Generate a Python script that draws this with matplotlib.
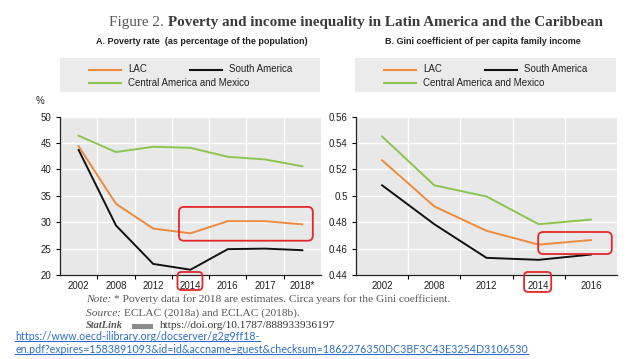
"""Figure 2: poverty and income inequality in Latin America and the Caribbean"""

import matplotlib
matplotlib.use('Agg')
import matplotlib.pyplot as plt
import numpy as np
from matplotlib.lines import Line2D
from matplotlib.patches import FancyBboxPatch, Rectangle
from matplotlib.transforms import blended_transform_factory

# --- data ---
poverty_years = ['2002', '2008', '2012', '2014', '2016', '2017', '2018*']
poverty_lac = [44.4, 33.5, 28.8, 27.9, 30.2, 30.2, 29.6]
poverty_south = [43.7, 29.4, 22.1, 21.0, 24.9, 25.0, 24.7]
poverty_central = [46.4, 43.3, 44.3, 44.1, 42.4, 41.9, 40.6]
poverty_ticks = [20, 25, 30, 35, 40, 45, 50]

gini_years = ['2002', '2008', '2012', '2014', '2016']
gini_lac = [0.527, 0.492, 0.4735, 0.463, 0.4665]
gini_south = [0.508, 0.4785, 0.453, 0.4515, 0.4555]
gini_central = [0.545, 0.508, 0.4995, 0.4785, 0.482]
gini_ticks = [0.44, 0.46, 0.48, 0.50, 0.52, 0.54, 0.56]

series_names = ['LAC', 'South America', 'Central America and Mexico']

ORANGE = '#ef8a3c'
BLACK = '#111111'
GREEN = '#8cc450'
COLORS = [ORANGE, BLACK, GREEN]
PANEL_BG = '#e8e8e8'
KEY_BG = '#ebebeb'
RED = '#e3262b'
LINK = '#2f6fc6'
SANS = ['Liberation Sans', 'DejaVu Sans']
SERIF = ['Liberation Serif', 'DejaVu Serif']
SMALL = 7

W, H = 638, 359


def fx(px):
    return px / W


def fy(py):
    return 1 - py / H


def make_panel(ax, years, series, ticks):
    """Линии одной панели на сером фоне"""
    ax.set_facecolor(PANEL_BG)
    x = np.arange(len(years))
    for values, color in zip(series, COLORS):
        ax.plot(x, values, color=color, lw=1.4)
    ax.set_xlim(-0.5, len(years) - 0.5)
    ax.set_ylim(ticks[0], ticks[-1])
    ax.set_xticks(x)
    ax.set_xticklabels(years, family=SANS, fontsize=SMALL)
    ax.set_xticks(x[1:] - 0.5, minor=True)
    ax.set_yticks(ticks)
    ax.yaxis.set_major_formatter(plt.FuncFormatter(lambda v, _: f'{v:g}'))
    for label in ax.get_yticklabels():
        label.set_family(SANS)
        label.set_fontsize(SMALL)
    ax.tick_params(axis='x', which='major', length=0, pad=4, colors='#222222')
    ax.tick_params(axis='x', which='minor', length=3, width=0.8, direction='out')
    ax.tick_params(axis='y', length=3, width=0.8, pad=3, labelcolor='#222222')
    ax.grid(True, which='minor', axis='x', color='white', lw=1)
    ax.grid(True, which='major', axis='y', color='white', lw=1)
    ax.set_axisbelow(True)
    for side in ('top', 'right'):
        ax.spines[side].set_visible(False)
    for side in ('left', 'bottom'):
        ax.spines[side].set_color('#222222')
        ax.spines[side].set_linewidth(0.9)


def draw_key(fig, left, right):
    """Серая плашка с легендой над панелью"""
    fig.add_artist(Rectangle((fx(left), fy(92)), fx(right - left), (92 - 58) / H,
                             transform=fig.transFigure, facecolor=KEY_BG, edgecolor='none'))
    spots = [(left + 29, 69.5), (left + 130, 69.5), (left + 29, 83)]
    for (x0, y0), name, color in zip(spots, series_names, COLORS):
        fig.add_artist(Line2D([fx(x0), fx(x0 + 32)], [fy(y0), fy(y0)], color=color, lw=1.5,
                              transform=fig.transFigure))
        fig.text(fx(x0 + 39), fy(y0), name, family=SANS, fontsize=SMALL, va='center',
                 color='#222222')


def red_box(ax, x0, x1, y0, y1, transform, aspect, radius):
    box = FancyBboxPatch((x0, y0), x1 - x0, y1 - y0,
                         boxstyle=f'round,pad=0,rounding_size={radius}', mutation_aspect=aspect,
                         transform=transform, fill=False, edgecolor=RED, lw=1.3, clip_on=False,
                         zorder=5)
    ax.add_patch(box)


def text_run(fig, x, y, parts, width=None, **kw):
    """Пишет кусочки текста подряд в одну строку; при width подгоняет ширину"""
    renderer = fig.canvas.get_renderer()
    texts = [fig.text(x, y, s, va='center', **kw, **extra) for s, extra in parts]

    def place():
        xx = x
        for t in texts:
            t.set_x(xx)
            xx = t.get_window_extent(renderer).x1 / fig.bbox.width
        return (xx - x) * fig.bbox.width

    total = place()
    if width:
        for t in texts:
            t.set_fontsize(t.get_fontsize() * width / total)
        place()
    return texts


def fit(fig, t, width):
    renderer = fig.canvas.get_renderer()
    w = t.get_window_extent(renderer).width
    t.set_fontsize(t.get_fontsize() * width / w)
    return t


def underline(fig, t, color):
    renderer = fig.canvas.get_renderer()
    bb = t.get_window_extent(renderer)
    w, h = fig.bbox.width, fig.bbox.height
    yy = (bb.y0 + 1) / h
    fig.add_artist(Line2D([bb.x0 / w, bb.x1 / w], [yy, yy], color=color, lw=0.8,
                          transform=fig.transFigure))


fig = plt.figure(figsize=(6.38, 3.59), dpi=100)
ax1 = fig.add_axes([fx(60), fy(275), fx(321 - 60), (275 - 116.7) / H])
ax2 = fig.add_axes([fx(356), fy(275), fx(617 - 356), (275 - 116.7) / H])

make_panel(ax1, poverty_years, [poverty_lac, poverty_south, poverty_central], poverty_ticks)
make_panel(ax2, gini_years, [gini_lac, gini_south, gini_central], gini_ticks)
ax1.text(-0.077, 1.10, '%', transform=ax1.transAxes, family=SANS, fontsize=SMALL,
         ha='center', va='center', color='#222222')

draw_key(fig, 60, 320)
draw_key(fig, 355, 616)

# red highlight boxes
for ax, (x0, x1, y0, y1), (lx0, lx1, ly0) in [
        (ax1, (2.69, 6.28, 26.5, 32.9), (2.65, 3.32, -0.095)),
        (ax2, (2.99, 4.40, 0.4559, 0.4726), (2.72, 3.24, -0.107))]:
    bbox = ax.get_window_extent()
    px_x = bbox.width / np.ptp(ax.get_xlim())
    px_y = bbox.height / np.ptp(ax.get_ylim())
    red_box(ax, x0, x1, y0, y1, ax.transData, px_x / px_y, 5 / px_x)
    blend = blended_transform_factory(ax.transData, ax.transAxes)
    red_box(ax, lx0, lx1, ly0, 0.019, blend, px_x / bbox.height, 4 / px_x)

# titles
text_run(fig, fx(109), fy(22.5),
         [('Figure 2. ', dict(fontweight='normal', color='#555555')),
          ('Poverty and income inequality in Latin America and the Caribbean',
           dict(fontweight='bold', color='#3a3a3a'))],
         width=493, family=SERIF, fontsize=12)
sub_a = fig.text(fx(96), fy(42), 'A. Poverty rate  (as percentage of the population)',
                 family=SANS, fontweight='bold', fontsize=8, va='center', color='#222222')
fit(fig, sub_a, 212)
sub_b = fig.text(fx(385), fy(42), 'B. Gini coefficient of per capita family income',
                 family=SANS, fontweight='bold', fontsize=8, va='center', color='#222222')
fit(fig, sub_b, 196)

# notes
text_run(fig, fx(86), fy(299),
         [('Note: ', dict(style='italic')),
          ('* Poverty data for 2018 are estimates. Circa years for the Gini coefficient.', {})],
         width=365, family=SERIF, fontsize=8, color='#555555')
text_run(fig, fx(86), fy(313.5),
         [('Source: ', dict(style='italic')), ('ECLAC (2018a) and ECLAC (2018b).', {})],
         family=SERIF, fontsize=8.2, color='#555555')
fig.text(fx(86), fy(326), 'StatLink', family=SERIF, fontsize=7.5, style='italic',
         fontweight='bold', color='#555555', va='center')
fig.add_artist(Rectangle((fx(132), fy(328.5)), fx(21), 5 / H, transform=fig.transFigure,
                         facecolor='#8a8a8a', edgecolor='none'))
fig.text(fx(160), fy(326), 'https://doi.org/10.1787/888933936197', family=SERIF, fontsize=8.2,
         color='#333333', va='center')

link1 = fig.text(fx(15), fy(336), 'https://www.oecd-ilibrary.org/docserver/g2g9ff18-',
                 family=['Lato', 'DejaVu Sans'], fontsize=9, color=LINK, va='center')
link2 = fig.text(fx(15), fy(349.5),
                 'en.pdf?expires=1583891093&id=id&accname=guest&checksum=1862276350DC3BF3C43E3254D3106530',
                 family=['Lato', 'DejaVu Sans'], fontsize=9, color=LINK, va='center')
fit(fig, link2, 513)
link1.set_fontsize(link2.get_fontsize())
underline(fig, link1, LINK)
underline(fig, link2, LINK)

fig.savefig('out.png', dpi=100)
